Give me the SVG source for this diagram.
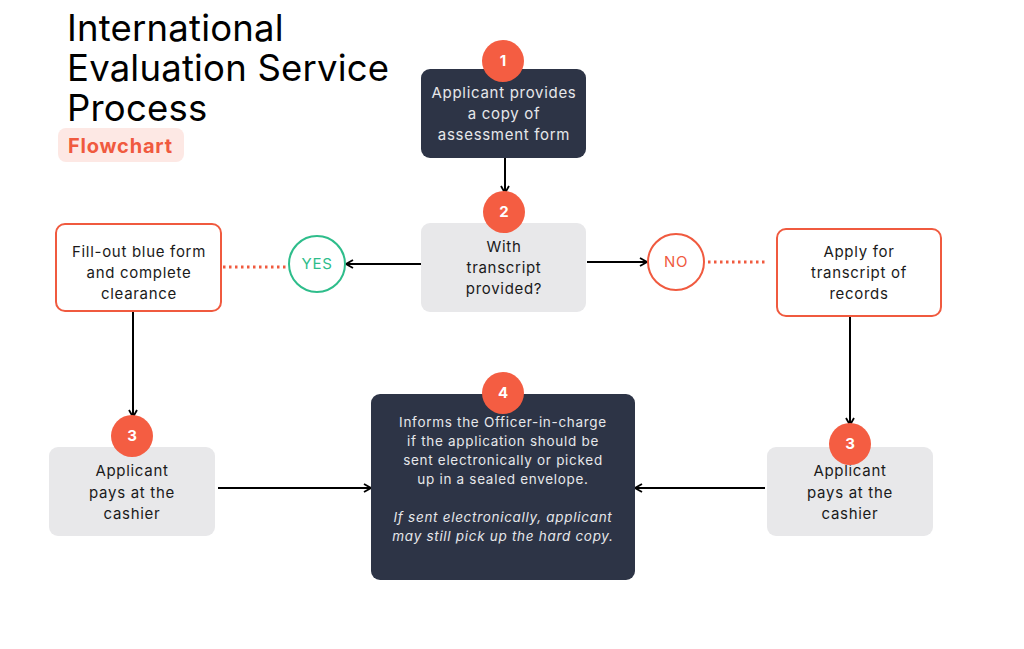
<svg xmlns="http://www.w3.org/2000/svg" width="1024" height="649" viewBox="0 0 1024 649">
<defs>
<style>
.title{font-family:Inter,"Liberation Sans",sans-serif;font-size:36.5px;letter-spacing:0.2px;fill:#000}
.t{font-family:Inter,"Liberation Sans",sans-serif;font-size:15px;letter-spacing:0.7px;text-anchor:middle}
.s{font-family:Inter,"Liberation Sans",sans-serif;font-size:13.5px;letter-spacing:0.7px;text-anchor:middle;fill:#e6e7ea}
.dark{fill:#2d3446}
.light{fill:#e8e8ea}
.redbox{fill:#fff;stroke:#f05a3f;stroke-width:2}
.badge{fill:#f45d42}
.bn{font-family:Inter,"Liberation Sans",sans-serif;font-size:15px;font-weight:bold;fill:#fff;text-anchor:middle}
.conn{stroke:#000;stroke-width:2;fill:none}
.dot{stroke:#f05a3f;stroke-width:3;stroke-dasharray:2.5 3.5;fill:none}
</style>
<marker id="ah" viewBox="0 0 10 10" refX="9" refY="5" markerWidth="10" markerHeight="10" markerUnits="userSpaceOnUse" orient="auto">
<path d="M2,1 L9,5 L2,9" fill="none" stroke="#000" stroke-width="1.8"/>
</marker>
</defs>
<rect width="1024" height="649" fill="#fff"/>
<g id="title">
<text class="title" x="67" y="41">International</text>
<text class="title" x="67" y="81">Evaluation Service</text>
<text class="title" x="67" y="121">Process</text>
<rect x="58" y="128" width="126" height="34" rx="8" fill="#fde8e4"/>
<text x="68" y="153" font-family="Inter,'Liberation Sans',sans-serif" font-size="20" letter-spacing="0.8" font-weight="bold" fill="#f05a3f">Flowchart</text>
</g>
<g id="connectors">
<line class="conn" x1="505" y1="158" x2="505" y2="193" marker-end="url(#ah)"/>
<line class="conn" x1="421" y1="264" x2="346" y2="264" marker-end="url(#ah)"/>
<line class="conn" x1="587" y1="262" x2="647" y2="262" marker-end="url(#ah)"/>
<line class="dot" x1="223" y1="267" x2="288" y2="267"/>
<line class="dot" x1="708" y1="262" x2="767" y2="262"/>
<line class="conn" x1="133" y1="311" x2="133" y2="417" marker-end="url(#ah)"/>
<line class="conn" x1="850" y1="316" x2="850" y2="425" marker-end="url(#ah)"/>
<line class="conn" x1="218" y1="488" x2="371" y2="488" marker-end="url(#ah)"/>
<line class="conn" x1="765" y1="488" x2="635" y2="488" marker-end="url(#ah)"/>
</g>
<g id="node1">
<rect class="dark" x="421" y="69" width="165" height="89" rx="9"/>
<text class="t" fill="#e6e7ea"><tspan x="504" y="98">Applicant provides</tspan><tspan x="504" y="119">a copy of</tspan><tspan x="504" y="140">assessment form</tspan></text>
<circle class="badge" cx="503" cy="61" r="21"/>
<text class="bn" x="503" y="66">1</text>
</g>
<g id="node2">
<rect class="light" x="421" y="223" width="165" height="89" rx="9"/>
<text class="t" fill="#1a1a1a"><tspan x="504" y="252">With</tspan><tspan x="504" y="273">transcript</tspan><tspan x="504" y="294">provided?</tspan></text>
<circle class="badge" cx="504" cy="212" r="21"/>
<text class="bn" x="504" y="217">2</text>
</g>
<g id="yes">
<circle cx="317" cy="264" r="28" fill="#fff" stroke="#2ebd8b" stroke-width="2"/>
<text class="t" x="317" y="269" fill="#2ebd8b">YES</text>
</g>
<g id="no">
<circle cx="676" cy="262" r="28" fill="#fff" stroke="#f05a3f" stroke-width="2"/>
<text class="t" x="676" y="267" fill="#f05a3f">NO</text>
</g>
<g id="fillout">
<rect class="redbox" x="56" y="224" width="165" height="87" rx="9"/>
<text class="t" fill="#1a1a1a"><tspan x="139" y="257">Fill-out blue form</tspan><tspan x="139" y="278">and complete</tspan><tspan x="139" y="299">clearance</tspan></text>
</g>
<g id="apply">
<rect class="redbox" x="777" y="229" width="164" height="87" rx="9"/>
<text class="t" fill="#1a1a1a"><tspan x="859" y="257">Apply for</tspan><tspan x="859" y="278">transcript of</tspan><tspan x="859" y="299">records</tspan></text>
</g>
<g id="node3left">
<rect class="light" x="49" y="447" width="166" height="89" rx="9"/>
<text class="t" fill="#1a1a1a"><tspan x="132" y="476">Applicant</tspan><tspan x="132" y="498">pays at the</tspan><tspan x="132" y="519">cashier</tspan></text>
<circle class="badge" cx="132" cy="436" r="21"/>
<text class="bn" x="132" y="441">3</text>
</g>
<g id="node3right">
<rect class="light" x="767" y="447" width="166" height="89" rx="9"/>
<text class="t" fill="#1a1a1a"><tspan x="850" y="476">Applicant</tspan><tspan x="850" y="498">pays at the</tspan><tspan x="850" y="519">cashier</tspan></text>
<circle class="badge" cx="850" cy="444" r="21"/>
<text class="bn" x="850" y="449">3</text>
</g>
<g id="node4">
<rect class="dark" x="371" y="394" width="264" height="186" rx="9"/>
<text class="s"><tspan x="503" y="427">Informs the Officer-in-charge</tspan><tspan x="503" y="446">if the application should be</tspan><tspan x="503" y="465">sent electronically or picked</tspan><tspan x="503" y="484">up in a sealed envelope.</tspan></text>
<text class="s" font-style="italic"><tspan x="503" y="522">If sent electronically, applicant</tspan><tspan x="503" y="541">may still pick up the hard copy.</tspan></text>
<circle class="badge" cx="503" cy="393" r="21"/>
<text class="bn" x="503" y="398" font-weight="normal">4</text>
</g>
</svg>
